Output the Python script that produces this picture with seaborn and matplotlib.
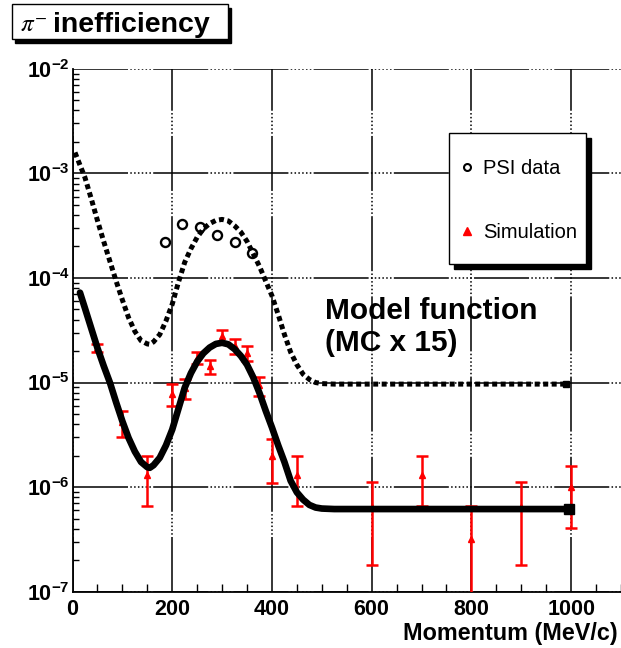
import numpy as np
import pandas as pd
import matplotlib
matplotlib.use("Agg")
import matplotlib.pyplot as plt
import seaborn as sns
from matplotlib.lines import Line2D
from matplotlib.patches import Rectangle
from matplotlib.ticker import LogLocator, NullFormatter, MultipleLocator
import matplotlib.transforms as mtransforms

# ---------------- data ----------------
# model function (simulation fit), solid curve
model_x = [15, 25, 37.5, 50, 62.5, 75, 87.5, 100, 112.5, 125, 137.5, 150, 155, 162.5,
           175, 187.5, 200, 212.5, 225, 237.5, 250, 262.5, 275, 287.5, 300, 312.5,
           325, 337.5, 350, 362.5, 375, 387.5, 400, 412.5, 425, 437.5, 450, 462.5,
           475, 487.5, 500, 525, 995]
model_y = [7.24e-5, 5.13e-5, 3.31e-5, 2.14e-5, 1.445e-5, 1.0e-5, 6.46e-6, 4.27e-6,
           2.95e-6, 2.19e-6, 1.74e-6, 1.55e-6, 1.53e-6, 1.62e-6, 1.91e-6, 2.51e-6,
           3.55e-6, 5.62e-6, 8.91e-6, 1.23e-5, 1.585e-5, 1.905e-5, 2.16e-5, 2.34e-5,
           2.40e-5, 2.32e-5, 2.09e-5, 1.80e-5, 1.48e-5, 1.12e-5, 7.94e-6, 5.37e-6,
           3.72e-6, 2.51e-6, 1.74e-6, 1.15e-6, 8.91e-7, 7.59e-7, 6.76e-7, 6.38e-7,
           6.24e-7, 6.17e-7, 6.17e-7]
# model function x 15, dotted curve
scaled_x = [5, 15, 25, 37.5, 50, 62.5, 75, 87.5, 100, 112.5, 125, 137.5, 150, 155,
            162.5, 175, 187.5, 200, 212.5, 225, 237.5, 250, 262.5, 275, 287.5, 300,
            312.5, 325, 337.5, 350, 362.5, 375, 387.5, 400, 412.5, 425, 437.5, 450,
            462.5, 475, 487.5, 500, 525, 990]
scaled_y = [1.585e-3, 1.2e-3, 9.12e-4, 5.75e-4, 3.55e-4, 2.24e-4, 1.445e-4, 9.33e-5,
            6.17e-5, 4.17e-5, 3.09e-5, 2.51e-5, 2.34e-5, 2.32e-5, 2.45e-5, 2.88e-5,
            3.89e-5, 5.62e-5, 9.12e-5, 1.41e-4, 1.905e-4, 2.45e-4, 2.95e-4, 3.31e-4,
            3.55e-4, 3.63e-4, 3.51e-4, 3.16e-4, 2.75e-4, 2.24e-4, 1.70e-4, 1.29e-4,
            9.33e-5, 6.76e-5, 4.47e-5, 2.88e-5, 1.95e-5, 1.48e-5, 1.20e-5, 1.07e-5,
            1.0e-5, 9.77e-6, 9.66e-6, 9.66e-6]
# PSI data (open circles)
psi_x = [185, 220, 255, 290, 325, 360]
psi_y = [2.2e-4, 3.3e-4, 3.1e-4, 2.55e-4, 2.2e-4, 1.75e-4]
# Simulation (red triangles with errors)
sim_x = [50, 100, 150, 200, 225, 250, 275, 300, 325, 350, 375, 400, 450,
         600, 700, 800, 900, 1000]
sim_y = [2.16e-5, 4.2e-6, 1.32e-6, 7.85e-6, 8.85e-6, 1.72e-5, 1.43e-5, 2.8e-5,
         2.24e-5, 1.93e-5, 9.4e-6, 1.98e-6, 1.32e-6, 6.5e-7, 1.32e-6, 3.2e-7,
         6.5e-7, 1.0e-6]
sim_err = [1.8e-6, 1.2e-6, 6.6e-7, 1.85e-6, 1.95e-6, 2.2e-6, 2.3e-6, 3.9e-6,
           3.7e-6, 3.3e-6, 1.9e-6, 8.8e-7, 6.6e-7, 4.7e-7, 6.6e-7, 3.4e-7,
           4.7e-7, 5.9e-7]

x_ticks = [0, 200, 400, 600, 800, 1000]
x_labels = ["0", "200", "400", "600", "800", "1000"]
y_ticks = [1e-7, 1e-6, 1e-5, 1e-4, 1e-3, 1e-2]
y_labels = [r"$10^{-7}$", r"$10^{-6}$", r"$10^{-5}$", r"$10^{-4}$", r"$10^{-3}$", r"$10^{-2}$"]
legend_labels = ["PSI data", "Simulation"]

# ---------------- style ----------------
sns.set_theme(style="white")
plt.rcParams["font.family"] = ["Liberation Sans", "DejaVu Sans"]
plt.rcParams["mathtext.fontset"] = "custom"
plt.rcParams["mathtext.rm"] = "Liberation Sans:bold"
plt.rcParams["mathtext.it"] = "Liberation Sans:bold"
plt.rcParams["mathtext.bf"] = "Liberation Sans:bold"

W, H = 621, 648
fig = plt.figure(figsize=(W / 100, H / 100), dpi=100)
fig.patch.set_facecolor("white")

def fx(px):
    return px / W

def fy(py):
    return 1 - py / H

ax_l, ax_r, ax_t, ax_b = 72.5, 621.0, 68.8, 591.7
ax = fig.add_axes([fx(ax_l), fy(ax_b), (ax_r - ax_l) / W, (ax_b - ax_t) / H])
ax.set_facecolor("white")
ax.set_yscale("log")
ax.set_xlim(0, 1100)
ax.set_ylim(1e-7, 1e-2)

# grid (ROOT-like long dash with dotted parts)
grid_ls = (0, (36, 1.5, 1, 1.5, 1, 1.5, 1, 1.5, 1, 1.5, 1, 1.5, 1, 1.5))
ax.set_axisbelow(True)
ax.grid(which="major", color="black", lw=1.1, linestyle=grid_ls)
ax.grid(which="minor", visible=False)

# simulation points with error bars
ax.errorbar(sim_x, sim_y, yerr=sim_err, fmt="^", color="red", ms=4.5,
            elinewidth=1.8, capsize=4.5, capthick=1.8, zorder=3)

# curves
sns.lineplot(x=scaled_x, y=scaled_y, ax=ax, color="black", lw=3.6,
             linestyle=(0, (1, 0.7)), sort=False, estimator=None, zorder=4)
sns.lineplot(x=model_x, y=model_y, ax=ax, color="black", lw=4.8,
             sort=False, estimator=None, zorder=4, solid_joinstyle="round",
             solid_capstyle="round")
ax.plot(scaled_x[-1:], scaled_y[-1:], marker="s", color="black", ms=4.5, ls="none", zorder=4)
ax.plot(model_x[-1:], model_y[-1:], marker="s", color="black", ms=7, ls="none", zorder=4)

# PSI data
ax.plot(psi_x, psi_y, marker="o", ls="none", mfc="none", mec="black",
        ms=6.5, mew=1.7, zorder=5)

# ticks
ax.set_xticks(x_ticks, labels=x_labels, fontweight="bold", fontsize=15.5)
ax.xaxis.set_minor_locator(MultipleLocator(50))
ax.set_yticks(y_ticks, labels=y_labels, fontsize=15.5)
ax.yaxis.set_minor_locator(LogLocator(base=10, subs=np.arange(2, 10)))
ax.yaxis.set_minor_formatter(NullFormatter())
ax.tick_params(which="major", direction="in", length=8, width=1.0, color="black",
               labelcolor="black")
ax.tick_params(axis="x", which="major", pad=5)
ax.tick_params(axis="y", which="major", pad=2)
ax.tick_params(axis="x", which="minor", direction="in", length=6, width=1.0,
               color="black", bottom=True)
ax.tick_params(axis="y", which="minor", direction="in", length=4.5, width=1.0,
               color="black", left=True)

for s in ["top", "right"]:
    ax.spines[s].set_visible(False)
for s in ["left", "bottom"]:
    ax.spines[s].set_color("black")
    ax.spines[s].set_linewidth(1.3)

ax.set_xlabel("Momentum (MeV/c)", fontsize=16.8, fontweight="bold", color="black", loc="right")
ax.xaxis.set_label_coords((618 - ax_l) / (ax_r - ax_l), -0.058)

# Model function text
ax.text(507, 10 ** -4.39, "Model function", fontsize=21.5, fontweight="bold",
        va="baseline", ha="left", color="black", zorder=6)
ax.text(507, 10 ** -4.695, "(MC x 15)", fontsize=21.5, fontweight="bold",
        va="baseline", ha="left", color="black", zorder=6)

# legend box with ROOT-like shadow
def axx(px):
    return (px - ax_l) / (ax_r - ax_l)

def axy(py):
    return 1 - (py - ax_t) / (ax_b - ax_t)

lx0, lx1, ly0, ly1 = axx(449), axx(586), axy(264), axy(133)
shadow_tr = ax.transAxes + mtransforms.ScaledTranslation(5 / 100, -5 / 100, fig.dpi_scale_trans)
ax.add_patch(Rectangle((lx0, ly0), lx1 - lx0, ly1 - ly0, transform=shadow_tr,
                       fc="black", ec="black", zorder=6, clip_on=False))
ax.add_patch(Rectangle((lx0, ly0), lx1 - lx0, ly1 - ly0, transform=ax.transAxes,
                       fc="white", ec="black", lw=1.0, zorder=7, clip_on=False))
handles = [
    Line2D([], [], marker="o", ls="none", mfc="none", mec="black", ms=5, mew=1.5),
    Line2D([], [], marker="^", ls="none", color="red", ms=5.5),
]
leg = ax.legend(handles, legend_labels, frameon=False, fontsize=14.5,
                loc="upper left", bbox_to_anchor=(axx(457), axy(159)),
                borderpad=0, borderaxespad=0, handlelength=1.0, handletextpad=0.3,
                labelspacing=2.25)
leg.set_zorder(8)
for t in leg.get_texts():
    t.set_color("black")

# title box with shadow: π with a superscript minus, then the word
fig.patches.append(Rectangle((fx(15), fy(43)), fx(231) - fx(15), fy(8) - fy(43),
                             transform=fig.transFigure, fc="black", ec="black", zorder=1))
fig.patches.append(Rectangle((fx(12), fy(39)), fx(228) - fx(12), fy(4) - fy(39),
                             transform=fig.transFigure, fc="white", ec="black", lw=1.0, zorder=2))
fig.text(fx(20), fy(32), r"$\pi^{-}$", fontsize=18, math_fontfamily="stix",
         va="baseline", ha="left", color="black", zorder=3)
fig.text(fx(53), fy(32), "inefficiency", fontsize=20.5, fontweight="bold",
         va="baseline", ha="left", color="black", zorder=3)

fig.savefig("out.png", dpi=100, facecolor="white")
